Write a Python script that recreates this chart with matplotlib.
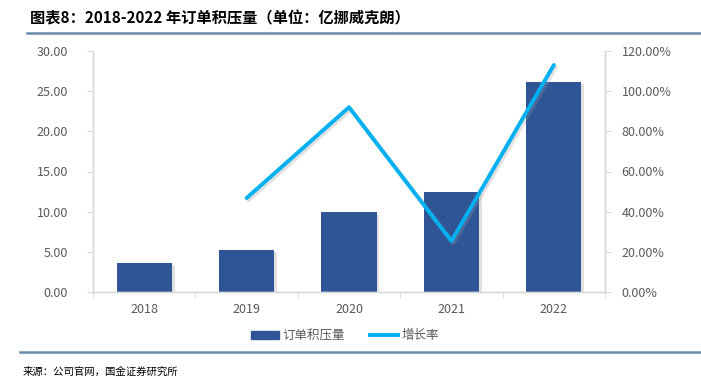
import matplotlib
matplotlib.use("Agg")
import matplotlib.pyplot as plt
import matplotlib.patheffects as pe
from matplotlib.ticker import FuncFormatter, FixedLocator
from matplotlib.lines import Line2D
from matplotlib.patches import Patch

plt.rcParams['font.family'] = ['Noto Sans CJK SC', 'DejaVu Sans']

# data
years = ["2018", "2019", "2020", "2021", "2022"]
backlog = [3.6, 5.2, 9.9, 12.4, 26.1]          # 亿挪威克朗
growth_years = ["2019", "2020", "2021", "2022"]
growth = [46.8, 92.0, 25.4, 113.0]              # %

bar_color = "#2F5597"
line_color = "#00B0F0"
grey = "#595959"
axis_grey = "#D9D9D9"

fig = plt.figure(figsize=(7.01, 3.79), dpi=100)
ax = fig.add_axes([93 / 701, 1 - 292 / 379, (605 - 93) / 701, (292 - 51) / 379])
ax2 = ax.twinx()

# bars with a soft shadow
x = list(range(len(years)))
ax.bar(x, backlog, width=0.54, color=bar_color, zorder=2,
       path_effects=[pe.SimplePatchShadow(offset=(2, -1.5), shadow_rgbFace="#AAAAAA", alpha=0.35), pe.Normal()])

# growth line
gx = [years.index(y) for y in growth_years]
ax2.plot(gx, growth, color=line_color, lw=2.8, solid_capstyle="round", zorder=3,
         path_effects=[pe.SimpleLineShadow(offset=(1.5, -1.5), shadow_color="#999999", alpha=0.3), pe.Normal()])

ax.set_xlim(-0.5, len(years) - 0.5)
ax.set_ylim(0, 30)
ax2.set_ylim(0, 120)
ax.set_yticks([0, 5, 10, 15, 20, 25, 30])
ax2.set_yticks([0, 20, 40, 60, 80, 100, 120])
ax.yaxis.set_major_formatter(FuncFormatter(lambda v, p: f"{v:.2f}"))
ax2.yaxis.set_major_formatter(FuncFormatter(lambda v, p: f"{v:.2f}%"))

ax.set_xticks(x)
ax.set_xticklabels(years)
ax.xaxis.set_minor_locator(FixedLocator([i - 0.5 for i in range(len(years) + 1)]))
ax.tick_params(axis="x", which="major", length=0, pad=8, labelsize=9, labelcolor=grey)
ax.tick_params(axis="x", which="minor", length=4, color=axis_grey, direction="out")
ax.tick_params(axis="y", length=4, color=axis_grey, labelsize=9, labelcolor=grey, pad=14)
ax2.tick_params(axis="y", length=4, color=axis_grey, labelsize=9, labelcolor=grey, pad=8)

for a in (ax, ax2):
    a.spines["top"].set_visible(False)
    for s in ("left", "right", "bottom"):
        a.spines[s].set_color(axis_grey)
        a.spines[s].set_linewidth(1)

# title and rules
fig.text(30 / 701, 1 - 18 / 379, "图表8：2018-2022 年订单积压量（单位：亿挪威克朗）",
         fontsize=11, fontweight="bold", fontstyle="italic", va="center", ha="left", color="#000000")
fig.add_artist(Line2D([27 / 701, 1.0], [1 - 33 / 379] * 2, color="#6A8CAB", lw=1.8))
fig.add_artist(Line2D([20 / 701, 1.0], [1 - 352 / 379] * 2, color="#6A8CAB", lw=1.8))
fig.text(23 / 701, 1 - 372 / 379, "来源：公司官网，国金证券研究所", fontsize=7.5, va="center", ha="left", color="#000000")

# legend
handles = [Patch(facecolor=bar_color, edgecolor=bar_color),
           Line2D([0], [0], color=line_color, lw=2.8)]
fig.legend(handles, ["订单积压量", "增长率"], loc="center", bbox_to_anchor=(345 / 701, 1 - 336 / 379),
           ncol=2, frameon=False, fontsize=9, handlelength=2.2, handleheight=0.6,
           columnspacing=2.0, labelcolor=grey, handletextpad=0.3)

fig.savefig("out.png", dpi=100)
